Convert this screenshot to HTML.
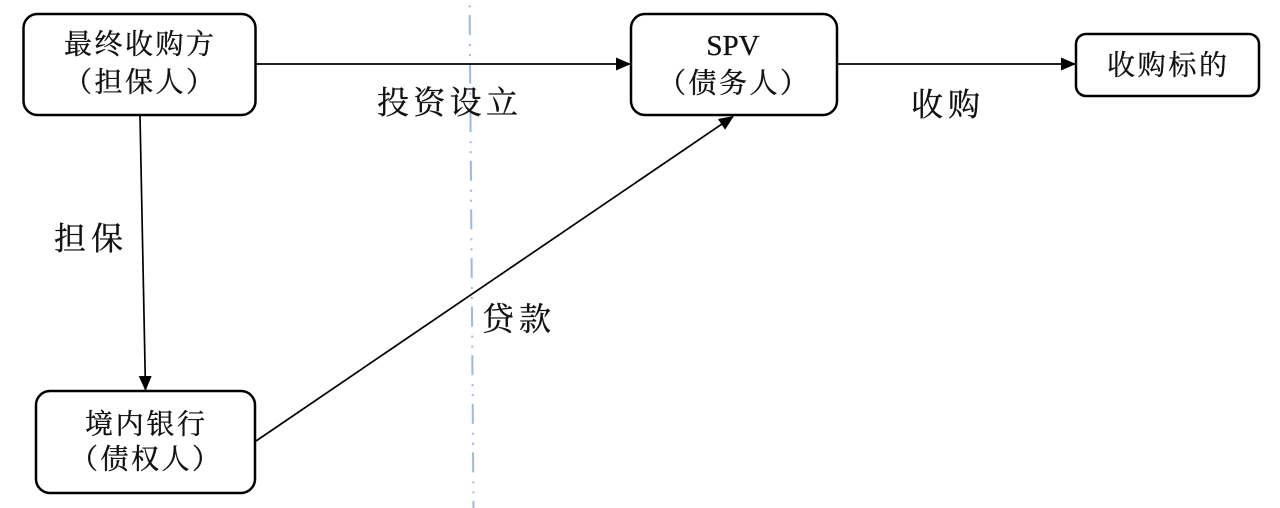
<!DOCTYPE html>
<html>
<head>
<meta charset="utf-8">
<style>
html,body{margin:0;padding:0;background:#fff;width:1280px;height:508px;overflow:hidden;}
svg{display:block;}
.t{font-family:"Liberation Serif","Noto Serif CJK SC",serif;fill:#111;stroke:#111;stroke-width:0.35;}
</style>
</head>
<body>
<svg width="1280" height="508" viewBox="0 0 1280 508" xmlns="http://www.w3.org/2000/svg">
  <defs>
    <marker id="ah" markerWidth="15" markerHeight="13" refX="14" refY="6.5" orient="auto" markerUnits="userSpaceOnUse">
      <path d="M0,0 L15,6.5 L0,13 Z" fill="#000"/>
    </marker>
  </defs>

  <!-- dash-dot vertical line -->
  <line x1="469.3" y1="-33.6" x2="473.5" y2="508" stroke="#9ab8ea" stroke-width="2" stroke-dasharray="20 9 2 8 2 7.6"/>

  <!-- boxes -->
  <rect x="23.5" y="14" width="232" height="101" rx="14" ry="14" fill="#fff" stroke="#000" stroke-width="2.5"/>
  <rect x="631" y="14" width="206" height="101" rx="14" ry="14" fill="#fff" stroke="#000" stroke-width="2.5"/>
  <rect x="1076" y="34" width="183" height="62" rx="10" ry="10" fill="#fff" stroke="#000" stroke-width="2.5"/>
  <rect x="36" y="391" width="219" height="102" rx="14" ry="14" fill="#fff" stroke="#000" stroke-width="2.5"/>

  <!-- connectors -->
  <line x1="256" y1="64" x2="630" y2="64" stroke="#000" stroke-width="1.7" marker-end="url(#ah)"/>
  <line x1="838" y1="64" x2="1075" y2="64" stroke="#000" stroke-width="1.7" marker-end="url(#ah)"/>
  <line x1="140" y1="116" x2="145.5" y2="390" stroke="#000" stroke-width="1.7" marker-end="url(#ah)"/>
  <line x1="256" y1="441" x2="733" y2="116.5" stroke="#000" stroke-width="1.7" marker-end="url(#ah)"/>

  <!-- box texts -->
  <text class="t" x="139" y="45" font-size="28" text-anchor="middle" dominant-baseline="central" textLength="150" lengthAdjust="spacing">最终收购方</text>
  <text class="t" x="139" y="83" font-size="28" text-anchor="middle" dominant-baseline="central" textLength="150" lengthAdjust="spacing">（担保人）</text>

  <text class="t" x="733" y="55" font-size="29" text-anchor="middle">SPV</text>
  <text class="t" x="733" y="84" font-size="28" text-anchor="middle" dominant-baseline="central" textLength="150" lengthAdjust="spacing">（债务人）</text>

  <text class="t" x="1167" y="66" font-size="28" text-anchor="middle" dominant-baseline="central" textLength="120" lengthAdjust="spacing">收购标的</text>

  <text class="t" x="145" y="425" font-size="28" text-anchor="middle" dominant-baseline="central" textLength="120" lengthAdjust="spacing">境内银行</text>
  <text class="t" x="145" y="460" font-size="28" text-anchor="middle" dominant-baseline="central" textLength="150" lengthAdjust="spacing">（债权人）</text>

  <!-- labels -->
  <text class="t" x="447.5" y="102.5" font-size="32" text-anchor="middle" dominant-baseline="central" textLength="141" lengthAdjust="spacing">投资设立</text>
  <text class="t" x="945.5" y="104.5" font-size="32" text-anchor="middle" dominant-baseline="central" textLength="69" lengthAdjust="spacing">收购</text>
  <text class="t" x="88.5" y="238.5" font-size="32" text-anchor="middle" dominant-baseline="central" textLength="69" lengthAdjust="spacing">担保</text>
  <text class="t" x="516.5" y="319" font-size="32" text-anchor="middle" dominant-baseline="central" textLength="69" lengthAdjust="spacing">贷款</text>
</svg>
</body>
</html>
